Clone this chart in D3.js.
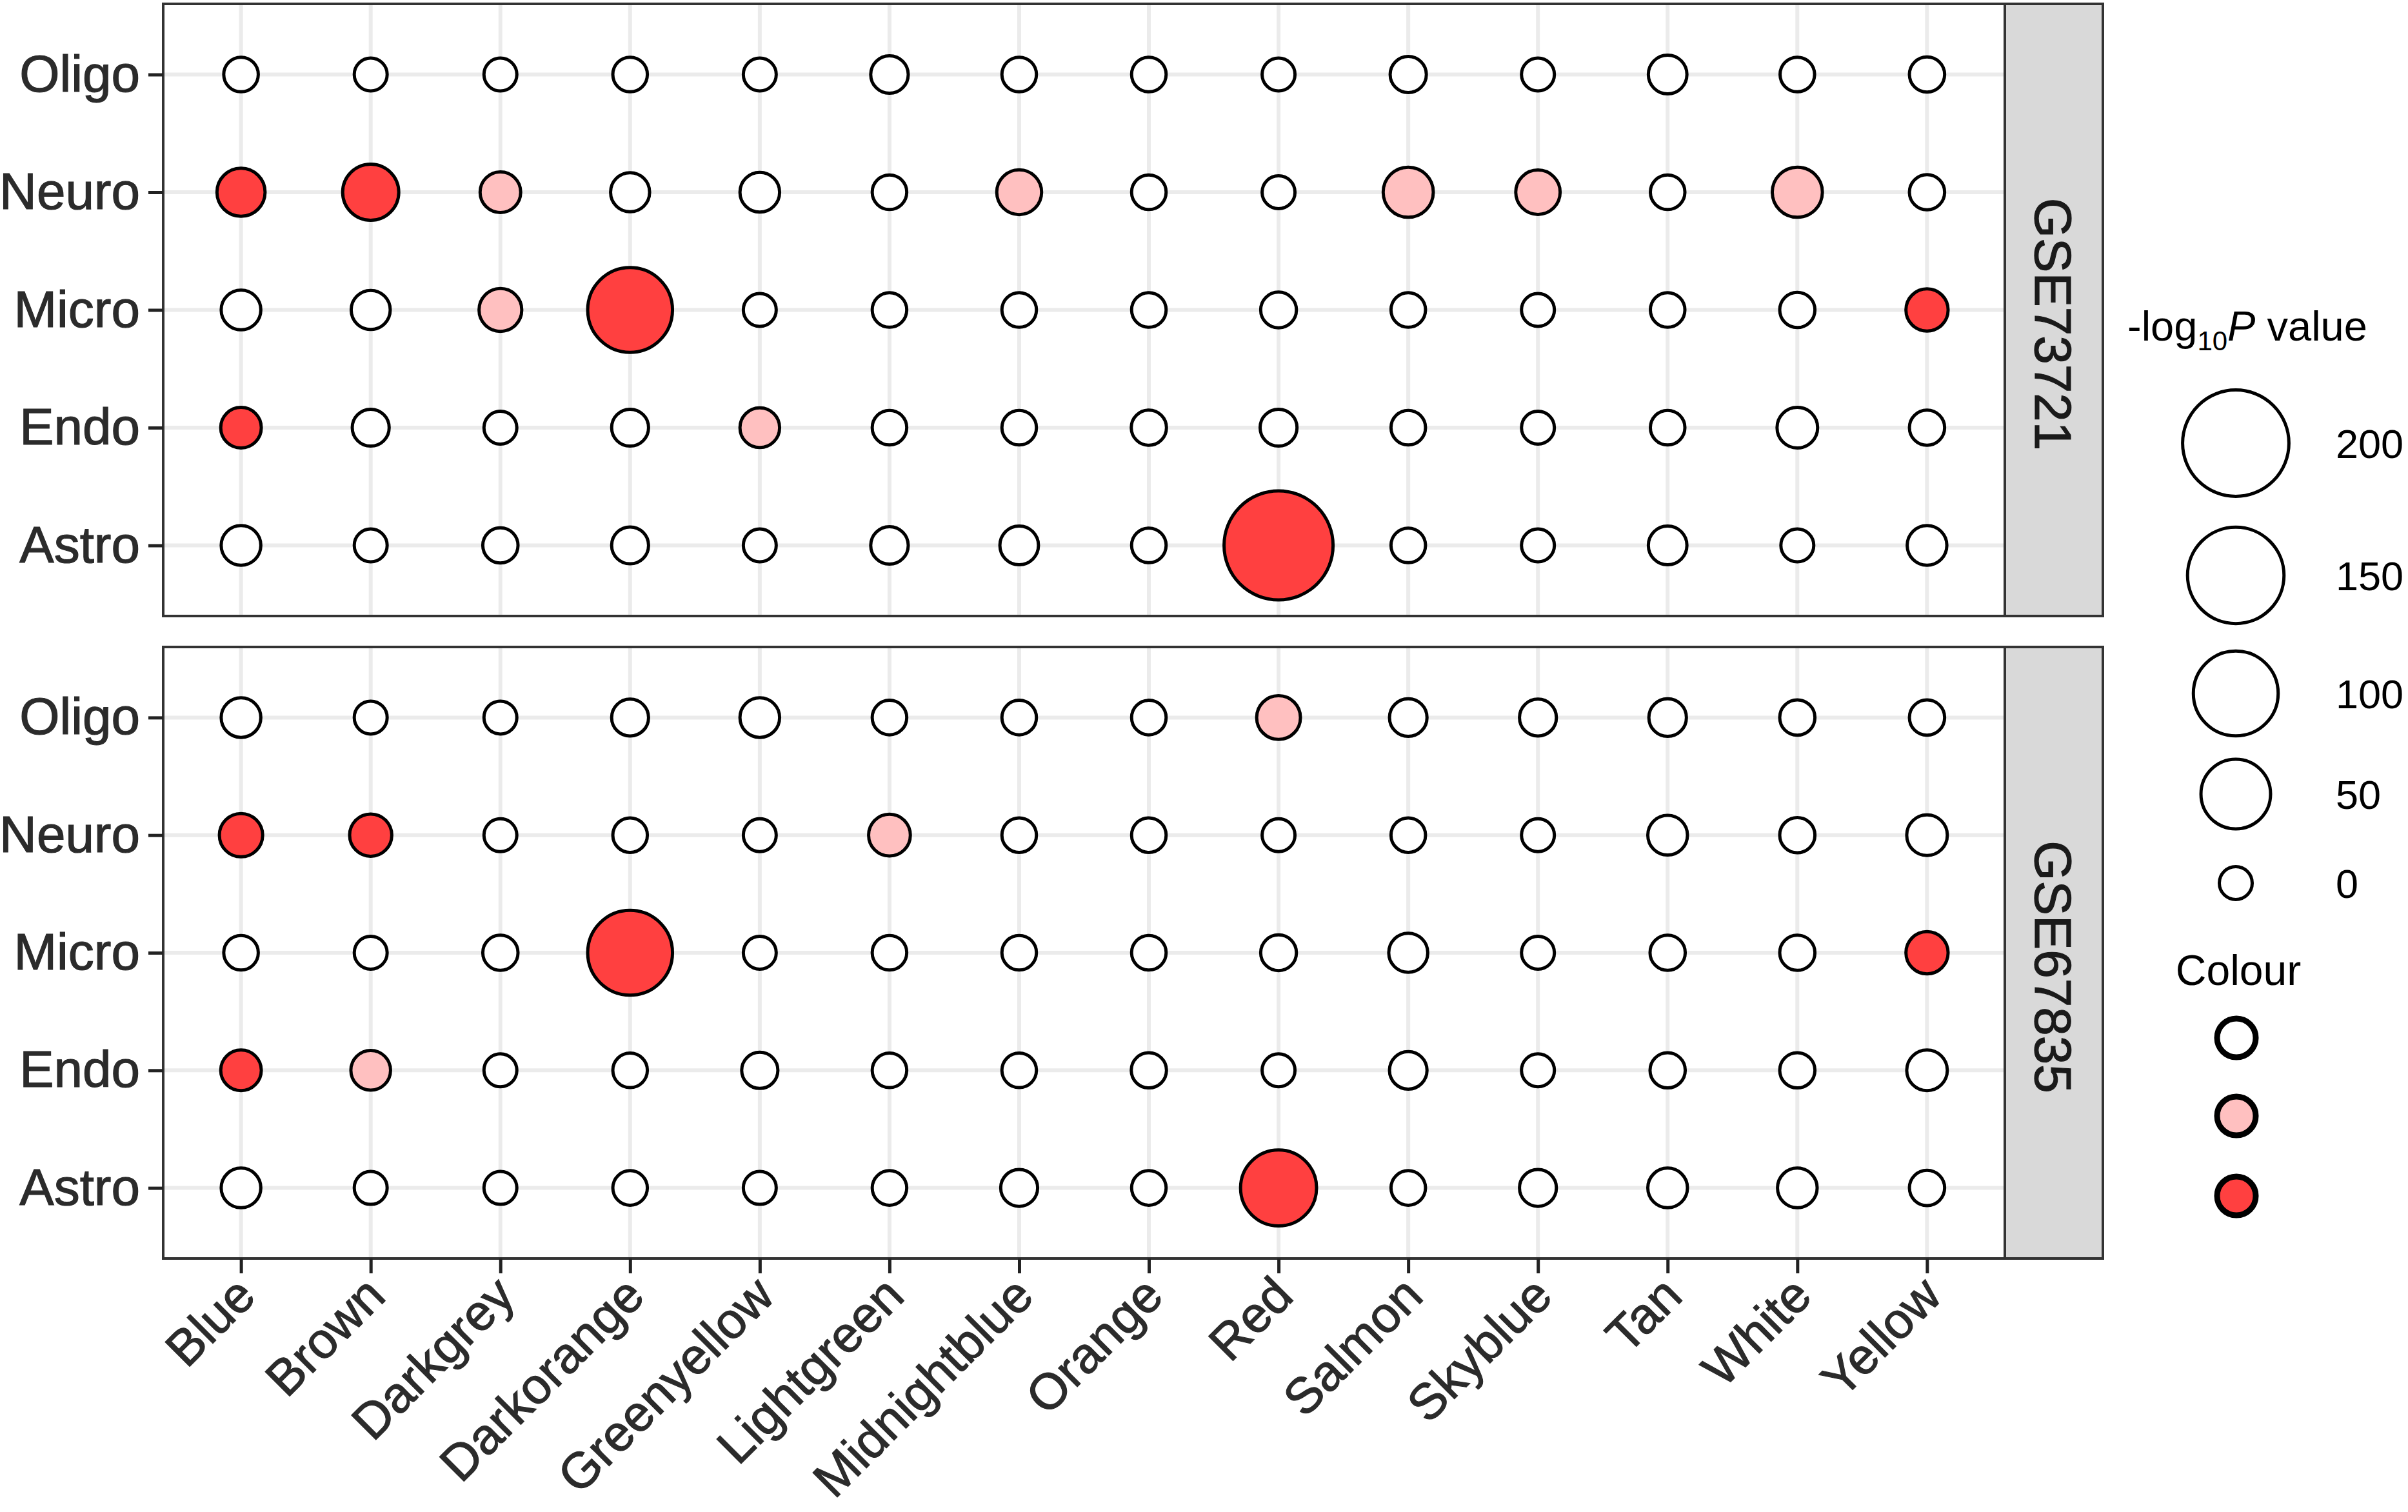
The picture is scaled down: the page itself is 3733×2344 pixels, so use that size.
<!DOCTYPE html>
<html>
<head>
<meta charset="utf-8">
<script src="https://cdn.jsdelivr.net/npm/d3@7"></script>
<style>
  body { margin: 0; background: #fff; }
  svg { display: block; }
  text { font-family: "Liberation Sans", Arial, Helvetica, sans-serif; }
</style>
</head>
<body>
<svg id="chart"></svg>
<script>
// module names (x axis) and cell types (y axis, top to bottom)
const modules = ["Blue", "Brown", "Darkgrey", "Darkorange", "Greenyellow", "Lightgreen",
  "Midnightblue", "Orange", "Red", "Salmon", "Skyblue", "Tan", "White", "Yellow"];
const cellTypes = ["Oligo", "Neuro", "Micro", "Endo", "Astro"];
const datasets = ["GSE73721", "GSE67835"];

// -log10 P, one row per cell type, one column per module
const logpGSE73721 = [
  [0.1, 0, 0, 0.1, 0, 0.8, 0.1, 0.1, 0, 0.4, 0, 1.2, 0.1, 0.2],
  [8.6, 20, 2.2, 1.4, 1.7, 0.1, 5.3, 0.1, 0, 11, 4.9, 0.1, 11, 0.2],
  [1.7, 1.4, 3.6, 100, 0, 0.1, 0.1, 0.1, 0.3, 0.1, 0, 0.1, 0.2, 3.2],
  [2.2, 0.6, 0, 0.6, 1.7, 0.1, 0.1, 0.2, 0.6, 0.1, 0, 0.1, 2.2, 0.2],
  [1.7, 0, 0.2, 0.6, 0, 0.8, 1.2, 0.1, 215, 0.1, 0, 1.2, 0, 1.7]
];
const logpGSE67835 = [
  [1.7, 0, 0, 0.6, 1.7, 0.1, 0.1, 0.1, 4.4, 0.8, 0.6, 0.8, 0.2, 0.2],
  [4.0, 3.2, 0, 0.1, 0, 2.9, 0.1, 0.1, 0, 0.1, 0, 1.7, 0.2, 2.2],
  [0.1, 0, 0.2, 100, 0, 0.1, 0.1, 0.1, 0.3, 1.4, 0, 0.2, 0.2, 3.2],
  [2.2, 1.7, 0, 0.1, 0.4, 0.1, 0.1, 0.2, 0, 0.8, 0, 0.2, 0.2, 2.2],
  [1.7, 0, 0, 0.1, 0, 0.1, 0.6, 0.1, 69, 0.1, 0.6, 1.7, 1.7, 0.2]
];

// colour level: 0 = white, 1 = pink, 2 = red
const colourGSE73721 = [
  [0, 0, 0, 0, 0, 0, 0, 0, 0, 0, 0, 0, 0, 0],
  [2, 2, 1, 0, 0, 0, 1, 0, 0, 1, 1, 0, 1, 0],
  [0, 0, 1, 2, 0, 0, 0, 0, 0, 0, 0, 0, 0, 2],
  [2, 0, 0, 0, 1, 0, 0, 0, 0, 0, 0, 0, 0, 0],
  [0, 0, 0, 0, 0, 0, 0, 0, 2, 0, 0, 0, 0, 0]
];
const colourGSE67835 = [
  [0, 0, 0, 0, 0, 0, 0, 0, 1, 0, 0, 0, 0, 0],
  [2, 2, 0, 0, 0, 1, 0, 0, 0, 0, 0, 0, 0, 0],
  [0, 0, 0, 2, 0, 0, 0, 0, 0, 0, 0, 0, 0, 2],
  [2, 1, 0, 0, 0, 0, 0, 0, 0, 0, 0, 0, 0, 0],
  [0, 0, 0, 0, 0, 0, 0, 0, 2, 0, 0, 0, 0, 0]
];

const sizeBreaks = [200, 150, 100, 50, 0];
const colourLevels = [0, 1, 2];
const fills = ["#FFFFFF", "#FFC0C0", "#FF4040"];

const logpBySet = { GSE73721: logpGSE73721, GSE67835: logpGSE67835 };
const colourBySet = { GSE73721: colourGSE73721, GSE67835: colourGSE67835 };

// long table
const rows = [];
datasets.forEach(ds => {
  cellTypes.forEach((ct, i) => {
    modules.forEach((m, j) => {
      rows.push({ ds, ct, m, v: logpBySet[ds][i][j], c: colourBySet[ds][i][j] });
    });
  });
});

const W = 3733, H = 2344;
const svg = d3.select("#chart").attr("width", W).attr("height", H);

const panelLeft = 253, panelRight = 3108, stripW = 152;
const panels = [
  { ds: "GSE73721", top: 6, bottom: 955 },
  { ds: "GSE67835", top: 1003, bottom: 1951 }
];
const stroke = 5;
const font = "'Liberation Sans', Arial, sans-serif";
const ink = "#2B2B2B";

const x = d3.scalePoint().domain(modules).range([panelLeft, panelRight]).padding(0.6);
const size = d3.scaleSqrt().domain([0, d3.max(rows, d => d.v)]).range([28, 87]);
const fill = d3.scaleOrdinal().domain(colourLevels).range(fills);

panels.forEach(p => {
  const y = d3.scalePoint().domain(cellTypes).range([p.top, p.bottom]).padding(0.6);
  const g = svg.append("g");

  g.append("rect")
    .attr("x", panelLeft).attr("y", p.top)
    .attr("width", panelRight - panelLeft).attr("height", p.bottom - p.top)
    .attr("fill", "#fff");

  // grid
  g.selectAll(".gx").data(modules).enter().append("line")
    .attr("x1", d => x(d)).attr("x2", d => x(d))
    .attr("y1", p.top).attr("y2", p.bottom)
    .attr("stroke", "#EBEBEB").attr("stroke-width", 6);
  g.selectAll(".gy").data(cellTypes).enter().append("line")
    .attr("y1", d => y(d)).attr("y2", d => y(d))
    .attr("x1", panelLeft).attr("x2", panelRight)
    .attr("stroke", "#EBEBEB").attr("stroke-width", 6);

  // points
  g.selectAll("circle").data(rows.filter(d => d.ds === p.ds)).enter().append("circle")
    .attr("cx", d => x(d.m))
    .attr("cy", d => y(d.ct))
    .attr("r", d => size(d.v) - stroke / 2)
    .attr("fill", d => fill(d.c))
    .attr("stroke", "#000")
    .attr("stroke-width", stroke);

  // border
  g.append("rect")
    .attr("x", panelLeft).attr("y", p.top)
    .attr("width", panelRight - panelLeft).attr("height", p.bottom - p.top)
    .attr("fill", "none").attr("stroke", "#333").attr("stroke-width", 4);

  // strip
  g.append("rect")
    .attr("x", panelRight).attr("y", p.top)
    .attr("width", stripW).attr("height", p.bottom - p.top)
    .attr("fill", "#D9D9D9").attr("stroke", "#333").attr("stroke-width", 4);
  const sy = (p.top + p.bottom) / 2 + 22;
  g.append("text")
    .attr("transform", `translate(${panelRight + stripW / 2},${sy}) rotate(90)`)
    .attr("text-anchor", "middle").attr("dy", "0.36em")
    .attr("font-size", 80).attr("fill", "#1A1A1A")
    .attr("stroke", "#1A1A1A").attr("stroke-width", 1.2)
    .text(p.ds);

  // y axis
  const yAxis = g.append("g").attr("transform", `translate(${panelLeft},0)`)
    .call(d3.axisLeft(y).tickSize(23).tickPadding(13));
  yAxis.select(".domain").remove();
  yAxis.selectAll(".tick line").attr("stroke", "#222").attr("stroke-width", 5);
  yAxis.selectAll(".tick text")
    .attr("font-size", 80).attr("fill", ink)
    .attr("stroke", ink).attr("stroke-width", 1.2)
    .attr("font-family", font);
});

// x axis under the bottom panel
const xAxis = svg.append("g").attr("transform", `translate(0,${panels[1].bottom})`)
  .call(d3.axisBottom(x).tickSize(23).tickPadding(0));
xAxis.select(".domain").remove();
xAxis.selectAll(".tick line").attr("stroke", "#222").attr("stroke-width", 5);
xAxis.selectAll(".tick text")
  .attr("font-size", 78).attr("fill", ink)
  .attr("stroke", ink).attr("stroke-width", 1.2)
  .attr("font-family", font)
  .attr("text-anchor", "end")
  .attr("y", null)
  .attr("transform", "translate(-14,22) rotate(-45)")
  .attr("dy", "0.72em");

// legend: size
const lgX = 3466;
const lg = svg.append("g");
const title = lg.append("text").attr("x", 3298).attr("y", 528)
  .attr("font-size", 65).attr("fill", "#000");
title.append("tspan").text("-log");
title.append("tspan").attr("font-size", 42).attr("dy", 15).text("10");
title.append("tspan").attr("dy", -15).attr("font-style", "italic").text("P");
title.append("tspan").text(" value");

const sizeY = d3.scaleOrdinal().domain(sizeBreaks).range([687, 892, 1075, 1231, 1369]);
lg.selectAll(".sk").data(sizeBreaks).enter().append("circle")
  .attr("cx", lgX).attr("cy", d => sizeY(d))
  .attr("r", d => size(d) - stroke / 2)
  .attr("fill", "#fff").attr("stroke", "#000").attr("stroke-width", stroke);
lg.selectAll(".sl").data(sizeBreaks).enter().append("text")
  .attr("x", 3621).attr("y", d => sizeY(d)).attr("dy", "0.36em")
  .attr("font-size", 63).attr("fill", "#000")
  .text(d => d);

// legend: colour
lg.append("text").attr("x", 3470).attr("y", 1527).attr("text-anchor", "middle")
  .attr("font-size", 66).attr("fill", "#000").text("Colour");
const colY = d3.scaleOrdinal().domain(colourLevels).range([1609, 1730, 1854]);
lg.selectAll(".ck").data(colourLevels).enter().append("circle")
  .attr("cx", 3467).attr("cy", d => colY(d))
  .attr("r", 30).attr("fill", d => fill(d))
  .attr("stroke", "#000").attr("stroke-width", 9);
</script>
</body>
</html>
